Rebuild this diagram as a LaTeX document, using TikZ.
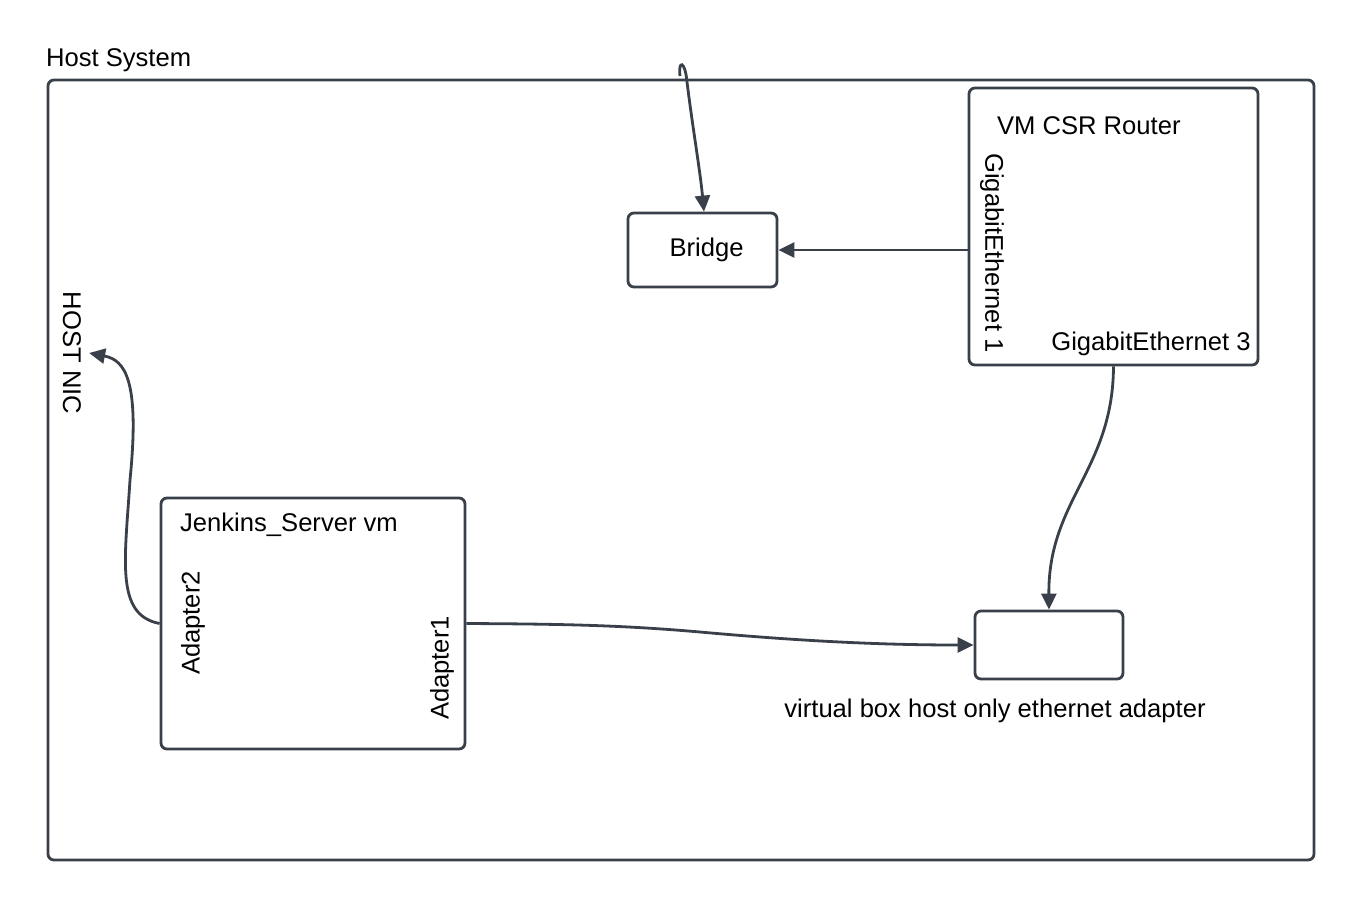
\documentclass[tikz,border=0pt]{standalone}
\usepackage{fontspec}
\setmainfont{Liberation Sans}
\usetikzlibrary{arrows.meta,positioning}
\definecolor{lineGrey}{HTML}{3A4049}

\begin{document}
\begin{tikzpicture}[x=0.5pt, y=-0.5pt, line width=1.4pt, draw=lineGrey,
  every node/.style={align=center, font=\fontsize{12.8}{15}\selectfont},
  box/.style={draw=lineGrey, rounded corners=3pt, inner sep=0pt},
  link/.style={draw=lineGrey, -{Triangle[length=8pt, width=7.5pt]}}]
\useasboundingbox (0,0) rectangle (1355,901);

\node (host) [box, minimum width=633pt, minimum height=390pt] at (681,470) {};
\node (hostlabel) [anchor=west] at (38,60) {Host System};
\node (hostnic) [rotate=-90] at (72,353) {HOST NIC};

\node (bridge) [box, minimum width=74.5pt, minimum height=37pt] at (702.5,250) {\hspace*{4pt}Bridge};

\node (router) [box, minimum width=144.5pt, minimum height=138.5pt] at (1113.5,226.5) {};
\node (routerlabel) [anchor=west] at (989,126) {VM CSR Router};
\node (gig1) [rotate=-90] at (992,253) {GigabitEthernet 1};
\node (gig3) at (1151,344) {GigabitEthernet 3};

\node (jenkins) [box, minimum width=152pt, minimum height=125.5pt] at (313,623.5) {};
\node (jenkinslabel) at (289,525) {Jenkins\_Server vm};
\node (adapter2) [rotate=90] at (193,623) {Adapter2};
\node (adapter1) [rotate=90] at (442,668) {Adapter1};

\node (hostonly) [box, minimum width=74pt, minimum height=34pt] at (1049,645) {};
\node (hostonlylabel) [below=5pt of hostonly, xshift=-27pt] {virtual box host only ethernet adapter};

\coordinate (uplink) at (680,76);

\draw[link] (uplink) .. controls (678,60) and (685,60) .. (687,82) .. controls (693,130) and (700,170) .. (bridge.north -| 704,0);
\draw[link] (bridge.east -| router.west) -- (bridge.east);
\draw[link] (router.south) .. controls (1113,470) and (1048,500) .. (hostonly.north);
\draw[link] (jenkins.east) .. controls (560,624) and (620,625) .. (700,632) .. controls (800,641) and (880,645) .. (hostonly.west);
\draw[link] (jenkins.west) .. controls (115,615) and (125,560) .. (130,480) .. controls (140,380) and (125,360) .. (hostnic.north);
\end{tikzpicture}
\end{document}
